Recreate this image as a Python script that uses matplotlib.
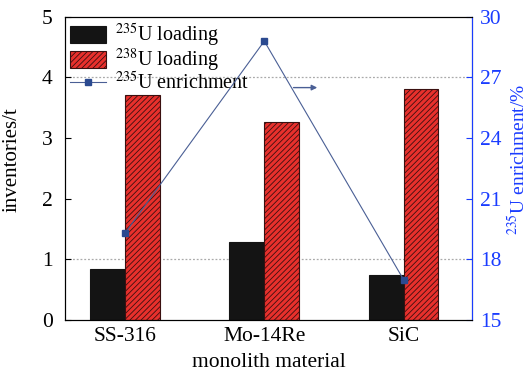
import matplotlib
matplotlib.use("Agg")
import matplotlib.pyplot as plt
import numpy as np

plt.rcParams['font.family'] = ['Liberation Serif', 'DejaVu Serif']
plt.rcParams['mathtext.fontset'] = 'stix'
plt.rcParams['hatch.linewidth'] = 0.6

materials = ['SS-316', 'Mo-14Re', 'SiC']
u235_loading = [0.84, 1.29, 0.75]
u238_loading = [3.71, 3.27, 3.81]
u235_enrich = [19.3, 28.8, 17.0]

blue = '#1a3cff'
x = np.arange(len(materials))
w = 0.25

fig = plt.figure(figsize=(5.29, 3.74), dpi=100)
ax = fig.add_axes([0.123, 0.144, 0.769, 0.811])
ax2 = ax.twinx()

b1 = ax.bar(x - w / 2, u235_loading, w, color='#141414', edgecolor='#141414',
            linewidth=0.8, label='$^{235}$U loading', zorder=2)
b2 = ax.bar(x + w / 2, u238_loading, w, color='#e8302c', edgecolor='#3a1010',
            hatch='//////', linewidth=0.8, label='$^{238}$U loading', zorder=2)
for gy in [1, 4]:
    ax.axhline(gy, color='#aaaaaa', ls=(0, (1.5, 1.5)), lw=0.9, zorder=1)

ln, = ax2.plot(x, u235_enrich, color='#4a5f95', lw=0.8, marker='s', ms=5,
               mfc='#2b4a90', mec='#2b4a90', label='$^{235}$U enrichment', zorder=3)
ax2.annotate('', xy=(1.40, 26.5), xytext=(1.19, 26.5),
             arrowprops=dict(arrowstyle='-|>', color='#4a5f95', lw=1.0,
                             mutation_scale=8))

ax.set_xlim(-0.43, 2.49)
ax.set_ylim(0, 5)
ax.set_yticks([0, 1, 2, 3, 4, 5])
ax.set_xticks(x)
ax.set_xticklabels(materials)
ax.tick_params(axis='y', direction='in', labelsize=15.5, length=4, pad=9)
ax.tick_params(axis='x', length=0, labelsize=15.5, pad=5)
ax.set_ylabel('inventories/t', fontsize=15)
ax.yaxis.set_label_coords(-0.107, 0.53)
ax.set_xlabel('monolith material', fontsize=15.5, labelpad=5)

ax2.set_ylim(15, 30)
ax2.set_yticks([15, 18, 21, 24, 27, 30])
ax2.tick_params(axis='y', direction='in', colors=blue, labelsize=15.5, length=4, pad=6)
ax2.spines['right'].set_color(blue)
ax2.set_ylabel('$^{235}$U enrichment/%', color=blue, fontsize=14)
ax2.yaxis.set_label_coords(1.086, 0.53)

ax.legend(handles=[b1, b2, ln], loc='upper left', frameon=False, fontsize=14.5,
          borderaxespad=0.15, handlelength=1.8, handleheight=0.9,
          labelspacing=-0.1, handletextpad=0.45, borderpad=0.1)

fig.savefig('out.png', dpi=100)
